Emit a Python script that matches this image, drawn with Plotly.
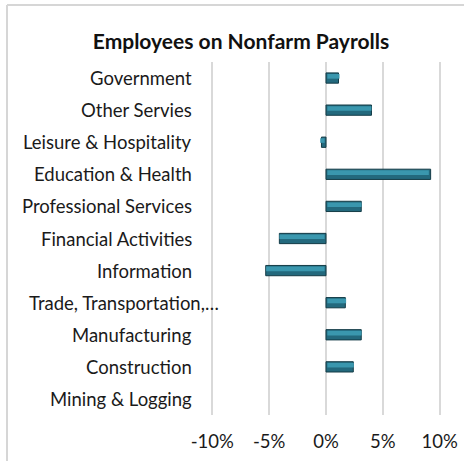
import plotly.graph_objects as go

categories = [
    "Government",
    "Other Servies",
    "Leisure & Hospitality",
    "Education & Health",
    "Professional Services",
    "Financial Activities",
    "Information",
    "Trade, Transportation,…",
    "Manufacturing",
    "Construction",
    "Mining & Logging",
]
values = [1.1, 4.0, -0.4, 9.2, 3.1, -4.1, -5.3, 1.7, 3.1, 2.4, 0.0]
tick_vals = [-10, -5, 0, 5, 10]
tick_text = ["-10%", "-5%", "0%", "5%", "10%"]
title_text = "Employees on Nonfarm Payrolls"

W, H = 464, 461
PAD = 0.2
unit = (440 - 212.7) / 20.0
L = round(212.7 - PAD * unit)
R = round(W - (440 + PAD * unit))
T, B = 62, 46
pw = W - L - R
ph = H - T - B

def px_x(x):
    return (x - L) / pw

def px_y(y):
    return (H - B - y) / ph

FONT = "Lato"
TXT = "#1a1a1a"
BAR_W = 0.32

fig = go.Figure()
# main bar body (darker teal with dark outline)
fig.add_trace(go.Bar(
    x=values,
    y=categories,
    orientation="h",
    width=BAR_W,
    offset=-BAR_W / 2,
    marker=dict(
        color="#23697d",
        line=dict(color="#143c47", width=[0 if v == 0 else 1 for v in values]),
    ),
    hoverinfo="x+y",
))
# lighter upper highlight to mimic the bevelled look
fig.add_trace(go.Bar(
    x=[v * 0.97 for v in values],
    y=categories,
    orientation="h",
    width=BAR_W * 0.45,
    offset=-BAR_W / 2 + 0.035,
    base=[0.12 if v > 0 else -0.12 if v < 0 else 0 for v in values],
    marker=dict(color="#3a97ae", line=dict(width=0)),
    hoverinfo="skip",
))

annotations = []
for c in categories:
    right_px = 221 if c.startswith("Trade") else 194
    annotations.append(dict(
        x=px_x(right_px), xref="paper", xanchor="right",
        y=c, yref="y", yanchor="middle",
        text=c, showarrow=False,
        font=dict(family=FONT, size=18.5, color=TXT),
    ))

fig.update_layout(
    template="none",
    barmode="overlay",
    width=W, height=H, autosize=False,
    margin=dict(l=L, r=R, t=T, b=B, pad=0, autoexpand=False),
    paper_bgcolor="white", plot_bgcolor="white",
    showlegend=False,
    title=dict(
        text="<b>" + title_text + "</b>",
        x=241 / W, xref="container", xanchor="center",
        y=1 - 42 / H, yref="container", yanchor="middle",
        font=dict(family=FONT, size=21, color="#111111"),
    ),
    annotations=annotations,
    shapes=[
        dict(type="line", xref="paper", yref="paper",
             x0=px_x(7), x1=px_x(7), y0=px_y(5), y1=px_y(470),
             line=dict(color="#d6d6d6", width=2)),
        dict(type="line", xref="paper", yref="paper",
             x0=px_x(7), x1=px_x(470), y0=px_y(5), y1=px_y(5),
             line=dict(color="#d6d6d6", width=2)),
    ],
)
fig.update_xaxes(
    range=[-10 - PAD, 10 + PAD],
    tickvals=tick_vals, ticktext=tick_text,
    showgrid=True, gridcolor="#d9d9d9", gridwidth=1.5,
    zeroline=False, showline=False, automargin=False,
    ticks="outside", ticklen=10, tickcolor="rgba(0,0,0,0)",
    tickfont=dict(family=FONT, size=18.5, color=TXT),
    fixedrange=True,
)
fig.update_yaxes(
    categoryorder="array", categoryarray=categories,
    autorange="reversed", automargin=False,
    showticklabels=False, showgrid=False, zeroline=False, showline=False,
    fixedrange=True,
)

fig.write_html(
    "out.html",
    config={"displayModeBar": False, "responsive": False},
    post_script="document.body.style.margin='0';document.body.style.overflow='hidden';",
)
